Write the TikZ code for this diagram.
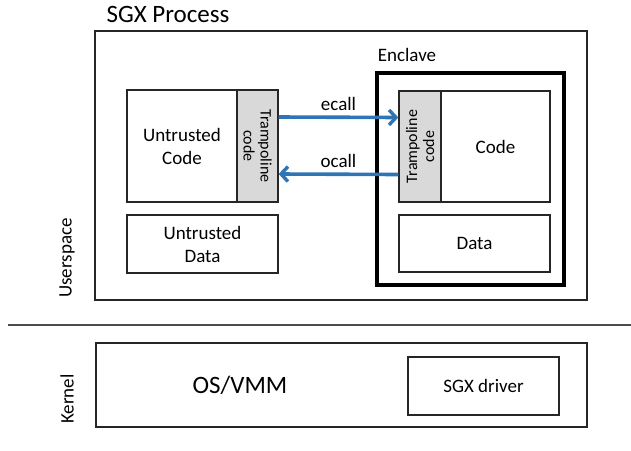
\documentclass[tikz,border=0pt]{standalone}
\usepackage{fontspec}
\setmainfont{Carlito}
\usetikzlibrary{arrows.meta}
\definecolor{callblue}{RGB}{46,117,182}
\definecolor{trampgray}{RGB}{217,217,217}
\newcommand\bigfont{\fontsize{25}{28}\selectfont}
\newcommand\midfont{\fontsize{19}{23}\selectfont}
\newcommand\smallfont{\fontsize{16}{17}\selectfont}
\begin{document}
\begin{tikzpicture}[x=1pt, y=-1pt, line join=miter,
  box/.style={draw=black!85, line width=1.3pt, inner sep=0pt, align=center},
  tramp/.style={box, fill=trampgray},
  tramptxt/.style={font=\smallfont, align=center, inner sep=0pt},
  call/.style={draw=callblue, line width=3.6pt, -{Straight Barb[length=7pt, width=15pt, line width=3.4pt]}},
  txt/.style={font=\midfont}]
  \useasboundingbox (0,0) rectangle (631,450);
  % userspace
  \node[box, minimum width=492, minimum height=269] (proc) at (341,165.5) {};
  \node[font=\bigfont, anchor=west] (title) at (103,14) {SGX Process};
  \node[box, txt, minimum width=110, minimum height=112] (ucode) at (182,146) {Untrusted\\Code};
  \node[tramp, minimum width=41, minimum height=112] (utramp) at (257.5,146) {};
  \node[tramptxt, rotate=-90] at (utramp) {Trampoline\\code};
  \node[box, txt, minimum width=151, minimum height=58] (udata) at (202.5,244) {Untrusted\\Data};
  % enclave
  \node[box, draw=black, line width=3.5pt, minimum width=187, minimum height=212] (encl) at (470.5,179) {};
  \node[txt] (encllbl) at (407,55) {Enclave};
  \node[tramp, minimum width=42, minimum height=111] (etramp) at (420,146.5) {};
  \node[tramptxt, rotate=90] at (etramp) {Trampoline\\code};
  \node[box, txt, minimum width=109, minimum height=111] (ecode) at (495.5,146.5) {Code};
  \node[box, txt, minimum width=151, minimum height=57] (edata) at (474.5,243.5) {Data};
  % calls
  \draw[call] ([yshift=29pt]utramp.east) -- node[txt, above=1pt] {ecall} ([yshift=29pt]etramp.west);
  \draw[call] ([yshift=-28pt]etramp.west) -- node[txt, above=1pt] {ocall} ([yshift=-28pt]utramp.east);
  % kernel
  \path (8,325) coordinate (sepL) (631,325) coordinate (sepR);
  \draw[black!70, line width=1.2pt] (sepL) -- (sepR);
  \node[box, minimum width=491, minimum height=84] (kern) at (341.5,385) {};
  \node[font=\bigfont] (os) at (240,385) {OS/VMM};
  \node[box, txt, minimum width=151, minimum height=58] (drv) at (483.5,386) {SGX driver};
  \foreach \t/\y in {Userspace/258, Kernel/399}
    \node[txt, rotate=90] at (67,\y) {\t};
\end{tikzpicture}
\end{document}
